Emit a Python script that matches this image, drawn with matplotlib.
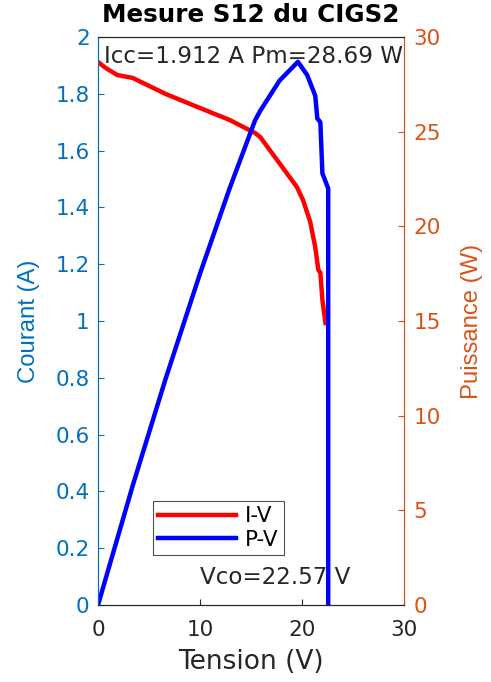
import matplotlib
matplotlib.use("Agg")
import matplotlib.pyplot as plt

# I-V curve (left axis, A)
v_iv = [0, 0.8, 1.9, 3.4, 6.6, 10.0, 12.9, 15.4, 15.9, 19.5, 20.1,
        20.8, 21.3, 21.6, 21.8, 22.0, 22.3]
i_iv = [1.912, 1.89, 1.866, 1.856, 1.80, 1.75, 1.708, 1.662, 1.648,
        1.472, 1.426, 1.35, 1.26, 1.18, 1.17, 1.074, 0.993]

# P-V curve (right axis, W)
v_pv = [0, 3.4, 6.6, 10.0, 12.9, 15.4, 15.9, 17.8, 19.6, 20.5, 21.3,
        21.5, 21.8, 22.0, 22.5, 22.57, 22.57]
p_pv = [0, 6.3, 11.9, 17.5, 22.0, 25.6, 26.1, 27.7, 28.69, 28.0, 26.9,
        25.7, 25.5, 22.8, 22.1, 22.0, 0]

blue_ax = "#0072BD"
orange_ax = "#D95319"
dark = "#262626"

fig = plt.figure(figsize=(4.91, 6.82), dpi=100)
ax = fig.add_axes([0.1996, 0.1129, 0.6232, 0.8328])
ax2 = ax.twinx()

l1, = ax.plot(v_iv, i_iv, color="red", lw=3.2, label="I-V")
l2, = ax2.plot(v_pv, p_pv, color="blue", lw=3.2, label="P-V")

ax.set_xlim(0, 30)
ax.set_ylim(0, 2)
ax2.set_ylim(0, 30)
ax.set_xticks([0, 10, 20, 30])
ax.set_yticks([i/10 for i in range(0, 21, 2)])
ax.set_yticklabels(["0", "0.2", "0.4", "0.6", "0.8", "1", "1.2", "1.4",
                    "1.6", "1.8", "2"])
ax2.set_yticks(range(0, 31, 5))

ax.tick_params(axis="x", direction="in", colors=dark, labelsize=15.5,
               length=4, pad=11)
ax.tick_params(axis="y", direction="in", colors=blue_ax, labelsize=15.5,
               length=4, pad=6)
ax2.tick_params(axis="y", direction="in", colors=orange_ax, labelsize=15.5,
                length=4, pad=7)

for a in (ax, ax2):
    a.spines["top"].set_color(dark)
    a.spines["bottom"].set_color(dark)
    a.spines["left"].set_color(blue_ax)
    a.spines["right"].set_color(orange_ax)
    for s in a.spines.values():
        s.set_linewidth(0.8)

ax.set_xlabel("Tension (V)", fontsize=19, color=dark, va="center")
ax.set_ylabel("Courant (A)", fontsize=17.2, color=blue_ax,
              family="Liberation Sans", ha="center", va="center")
ax2.set_ylabel("Puissance (W)", fontsize=17.2, color=orange_ax,
               family="Liberation Sans", ha="center", va="center")
ax.xaxis.set_label_coords(0.5, -0.1004)
ax.yaxis.set_label_coords(-0.2255, 0.5)
ax2.yaxis.set_label_coords(1.222, 0.5)
ax.text(0.5, 1.0387, "Mesure S12 du CIGS2", transform=ax.transAxes,
        fontsize=17.7, fontweight="bold", color="black",
        ha="center", va="center")

ax2.text(0.55, 28.95, "Icc=1.912 A Pm=28.69 W", fontsize=16.6, color=dark,
         va="center", ha="left")
ax2.text(10.0, 1.45, "Vco=22.57 V", fontsize=16.6, color=dark,
         va="center", ha="left")

leg = ax2.legend([l1, l2], ["I-V", "P-V"], loc="lower left",
                 bbox_to_anchor=(0.18, 0.088), borderaxespad=0,
                 fontsize=15.5, frameon=True, fancybox=False,
                 edgecolor=dark, handlelength=3.6, borderpad=0.25,
                 labelspacing=0.15, handletextpad=0.4)
leg.get_frame().set_linewidth(0.8)

fig.savefig("out.png", dpi=100)
